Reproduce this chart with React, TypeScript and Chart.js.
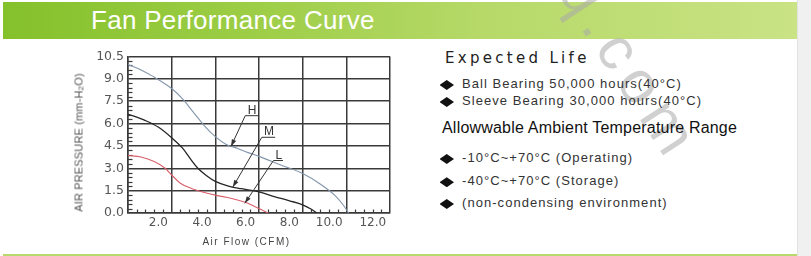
import React, { useEffect, useRef } from 'react';
import { Chart, registerables } from 'chart.js';

Chart.register(...registerables);

// ---- Data ----
const hFlow = [0, 0.6, 1.1, 2.0, 2.5, 3.0, 3.5, 4.0, 4.5, 5.0, 5.5, 6.0, 7.0, 8.0, 8.8, 9.5, 9.9, 10.1];
const hPressure = [9.96, 9.6, 9.2, 8.35, 7.65, 6.75, 5.85, 5.12, 4.6, 4.35, 4.05, 3.8, 3.22, 2.65, 1.95, 1.15, 0.45, 0];

const mFlow = [0, 0.8, 1.4, 2.0, 2.5, 2.9, 3.2, 3.6, 4.0, 4.6, 5.2, 6.0, 6.7, 7.4, 8.0, 8.4, 8.65];
const mPressure = [6.64, 6.2, 5.75, 5.05, 4.35, 3.55, 3.0, 2.5, 2.12, 1.8, 1.63, 1.42, 1.1, 0.82, 0.55, 0.25, 0];

const lFlow = [0, 0.6, 1.2, 1.7, 2.0, 2.4, 2.9, 3.5, 4.0, 4.8, 5.4, 6.0, 6.42];
const lPressure = [3.86, 3.76, 3.45, 3.0, 2.55, 2.0, 1.65, 1.38, 1.2, 0.96, 0.7, 0.3, 0];

const seriesNames = ['H', 'M', 'L'];
const seriesColors = ['#8396ab', '#262626', '#d8606b'];

// curve label annotations (data units)
const labelTipX = [4.72, 4.8, 5.35];
const labelTipY = [4.47, 1.74, 0.65];
const labelBaseX = [5.37, 6.13, 6.66];
const labelBaseY = [6.53, 5.08, 3.52];
const labelEndX = [5.96, 6.74, 7.1];

// axes
const xMin = 0, xMax = 12, xStep = 2, xMinorPerMajor = 5;
const yMin = 0, yMax = 10.5, yStep = 1.5, yMinorPerMajor = 5;

const expectedLife = ['Ball Bearing 50,000 hours(40°C)', 'Sleeve Bearing 30,000 hours(40°C)'];
const tempRange = ['-10°C~+70°C (Operating)', '-40°C~+70°C (Storage)', '(non-condensing environment)'];

const GRID = '#3a3a3a';
const SANS = '"Liberation Sans", Arial, sans-serif';

const minorTicksPlugin = {
  id: 'minorTicks',
  beforeDatasetsDraw(chart: any) {
    const { ctx, scales } = chart;
    const x = scales.x, y = scales.y;
    ctx.save();
    ctx.strokeStyle = GRID;
    ctx.lineWidth = 1.2;
    const bottom = y.getPixelForValue(yMin);
    const left = x.getPixelForValue(xMin);
    const nx = ((xMax - xMin) / xStep) * xMinorPerMajor;
    for (let i = 1; i < nx; i++) {
      if (i % xMinorPerMajor === 0) continue;
      const px = Math.round(x.getPixelForValue(xMin + (i * xStep) / xMinorPerMajor)) + 0.5;
      ctx.beginPath();
      ctx.moveTo(px, bottom);
      ctx.lineTo(px, bottom - 3.5);
      ctx.stroke();
    }
    const ny = ((yMax - yMin) / yStep) * yMinorPerMajor;
    for (let i = 1; i < ny; i++) {
      if (i % yMinorPerMajor === 0) continue;
      const py = Math.round(y.getPixelForValue(yMin + (i * yStep) / yMinorPerMajor)) + 0.5;
      ctx.beginPath();
      ctx.moveTo(left, py);
      ctx.lineTo(left + 4.5, py);
      ctx.stroke();
    }
    ctx.restore();
  },
};

const curveLabelPlugin = {
  id: 'curveLabels',
  afterDatasetsDraw(chart: any) {
    const { ctx, scales } = chart;
    const x = scales.x, y = scales.y;
    ctx.save();
    ctx.strokeStyle = '#333';
    ctx.fillStyle = '#333';
    ctx.lineWidth = 1;
    for (let i = 0; i < seriesNames.length; i++) {
      const tx = x.getPixelForValue(labelTipX[i]);
      const ty = y.getPixelForValue(labelTipY[i]);
      const bx = x.getPixelForValue(labelBaseX[i]);
      const by = y.getPixelForValue(labelBaseY[i]);
      const ex = x.getPixelForValue(labelEndX[i]);
      ctx.beginPath();
      ctx.moveTo(ex, by);
      ctx.lineTo(bx, by);
      ctx.lineTo(tx, ty);
      ctx.stroke();
      const ang = Math.atan2(ty - by, tx - bx);
      const len = 7, w = 2.3;
      const cx = tx - len * Math.cos(ang), cy = ty - len * Math.sin(ang);
      ctx.beginPath();
      ctx.moveTo(tx, ty);
      ctx.lineTo(cx + w * Math.sin(ang), cy - w * Math.cos(ang));
      ctx.lineTo(cx - w * Math.sin(ang), cy + w * Math.cos(ang));
      ctx.closePath();
      ctx.fill();
      ctx.font = `12px ${SANS}`;
      ctx.textAlign = 'center';
      ctx.textBaseline = 'alphabetic';
      ctx.fillText(seriesNames[i], (bx + ex) / 2 + 0.5, by - 2);
    }
    ctx.restore();
  },
};

function toPoints(xs: number[], ys: number[]) {
  return xs.map((v, i) => ({ x: v, y: ys[i] }));
}

function FanChart() {
  const ref = useRef<HTMLCanvasElement | null>(null);
  useEffect(() => {
    if (!ref.current) return;
    const flows = [hFlow, mFlow, lFlow];
    const pressures = [hPressure, mPressure, lPressure];
    const chart = new Chart(ref.current, {
      type: 'line',
      data: {
        datasets: seriesNames.map((name, i) => ({
          label: name,
          data: toPoints(flows[i], pressures[i]),
          borderColor: seriesColors[i],
          borderWidth: i === 1 ? 1.3 : 1.1,
          pointRadius: 0,
          fill: false,
          tension: 0.4,
          cubicInterpolationMode: 'monotone' as const,
        })),
      },
      options: {
        animation: false,
        responsive: false,
        devicePixelRatio: 1,
        layout: { padding: { left: 0, top: 10, right: 10, bottom: 0 } },
        plugins: { legend: { display: false }, tooltip: { enabled: false }, title: { display: false } },
        scales: {
          x: {
            type: 'linear',
            min: xMin,
            max: xMax,
            afterFit: (s: any) => { s.height = 42; },
            ticks: {
              stepSize: xStep,
              autoSkip: false,
              maxRotation: 0,
              align: 'end',
              padding: 3,
              color: '#555',
              font: { family: '"DejaVu Sans", sans-serif', size: 12 },
              callback: (v: any) => (Number(v) === 0 ? '' : Number(v).toFixed(1) + ' '),
            },
            grid: { color: GRID, lineWidth: 1.5, drawTicks: false },
            border: { display: true, color: GRID, width: 1.5 },
          },
          y: {
            type: 'linear',
            min: yMin,
            max: yMax,
            afterFit: (s: any) => { s.width = 68; },
            ticks: {
              stepSize: yStep,
              autoSkip: false,
              padding: 4,
              color: '#555',
              font: { family: '"DejaVu Sans", sans-serif', size: 12.5 },
              callback: (v: any) => Number(v).toFixed(1),
            },
            grid: { color: GRID, lineWidth: 1.5, drawTicks: false },
            border: { display: true, color: GRID, width: 1.5 },
          },
        },
      },
      plugins: [minorTicksPlugin, curveLabelPlugin],
    } as any);
    return () => chart.destroy();
  }, []);
  return (
    <canvas
      ref={ref}
      width={340}
      height={210}
      style={{ position: 'absolute', left: 60, top: 45, width: 340, height: 210 }}
    />
  );
}

const diamond = (cy: number) => (
  <div
    style={{
      position: 'absolute',
      left: 439.5,
      top: cy - 5,
      width: 14.5,
      height: 10,
      background: '#111',
      clipPath: 'polygon(50% 0, 100% 50%, 50% 100%, 0 50%)',
    }}
  />
);

export default function App() {
  const lifeTops = [76.5, 93.5];
  const lifeDiamonds = [85, 102];
  const tempTops = [150.5, 173.7, 195.5];
  const tempDiamonds = [159, 182.2, 204];
  const bulletText: React.CSSProperties = {
    position: 'absolute',
    left: 462,
    fontFamily: SANS,
    fontSize: 13,
    lineHeight: '13px',
    letterSpacing: '1.05px',
    color: '#333',
    whiteSpace: 'nowrap',
  };
  return (
    <div
      style={{
        position: 'absolute',
        left: 0,
        top: 0,
        width: 811,
        height: 256,
        background: '#fff',
        overflow: 'hidden',
      }}
    >
      {/* header bar */}
      <div
        style={{
          position: 'absolute',
          left: 3,
          top: 2,
          width: 794,
          height: 37,
          background: 'linear-gradient(to right, #84c12b 0%, #9ccd45 30%, #b6d968 60%, #c9e385 100%)',
        }}
      />
      {/* right gray strip */}
      <div
        style={{
          position: 'absolute',
          left: 797,
          top: 0,
          width: 14,
          height: 256,
          background: '#f0f0f0',
          borderLeft: '1px solid #e2e2e2',
        }}
      />
      {/* bottom green line */}
      <div style={{ position: 'absolute', left: 3, top: 254, width: 794, height: 2, background: '#b7da6e' }} />

      {/* watermark */}
      <div
        style={{
          position: 'absolute',
          left: 525.5,
          top: 37.8,
          width: 208.5,
          height: 60,
          lineHeight: '60px',
          textAlign: 'left',
          fontFamily: SANS,
          fontSize: 60,
          letterSpacing: '9px',
          color: 'rgba(170,170,170,0.55)',
          transform: 'rotate(57deg)',
          transformOrigin: '50% 50%',
          whiteSpace: 'nowrap',
        }}
      >
        q.com
      </div>

      <div
        style={{
          position: 'absolute',
          left: 91,
          top: 7.3,
          fontFamily: SANS,
          fontSize: 26,
          lineHeight: '26px',
          letterSpacing: '0.3px',
          color: '#fff',
          whiteSpace: 'nowrap',
        }}
      >
        Fan Performance Curve
      </div>

      <FanChart />

      {/* axis titles */}
      <div
        style={{
          position: 'absolute',
          left: 79 - 80,
          top: 142.5 - 5.5,
          width: 160,
          height: 11,
          lineHeight: '11px',
          textAlign: 'center',
          fontFamily: SANS,
          fontSize: 11,
          letterSpacing: '0.15px',
          color: '#555',
          transform: 'rotate(-90deg)',
          transformOrigin: '50% 50%',
          whiteSpace: 'nowrap',
        }}
      >
        AIR PRESSURE (mm-H<span style={{ fontSize: 8, position: 'relative', top: 1 }}>2</span>O)
      </div>
      <div
        style={{
          position: 'absolute',
          left: 246.5 - 60,
          top: 236.5,
          width: 120,
          lineHeight: '10px',
          textAlign: 'center',
          fontFamily: SANS,
          fontSize: 10,
          letterSpacing: '1.5px',
          color: '#444',
          whiteSpace: 'nowrap',
        }}
      >
        Air Flow (CFM)
      </div>

      {/* right panel */}
      <div
        style={{
          position: 'absolute',
          left: 445,
          top: 50.5,
          fontFamily: '"DejaVu Sans", sans-serif',
          fontSize: 15,
          lineHeight: '15px',
          letterSpacing: '3.3px',
          color: '#222',
          whiteSpace: 'nowrap',
        }}
      >
        Expected Life
      </div>
      {expectedLife.map((t, i) => (
        <React.Fragment key={t}>
          {diamond(lifeDiamonds[i])}
          <div style={{ ...bulletText, top: lifeTops[i] }}>{t}</div>
        </React.Fragment>
      ))}
      <div
        style={{
          position: 'absolute',
          left: 442,
          top: 120,
          fontFamily: SANS,
          fontSize: 16,
          lineHeight: '16px',
          letterSpacing: '0.2px',
          color: '#111',
          whiteSpace: 'nowrap',
        }}
      >
        Allowwable Ambient Temperature Range
      </div>
      {tempRange.map((t, i) => (
        <React.Fragment key={t}>
          {diamond(tempDiamonds[i])}
          <div style={{ ...bulletText, top: tempTops[i] }}>{t}</div>
        </React.Fragment>
      ))}
    </div>
  );
}
